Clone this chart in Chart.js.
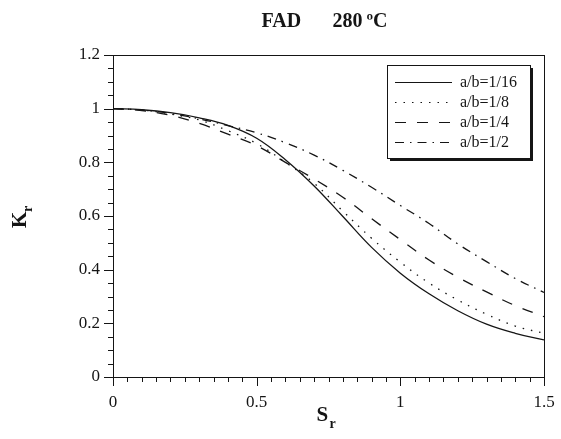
<!DOCTYPE html>
<html>
<head>
<meta charset="utf-8">
<script src="https://cdn.jsdelivr.net/npm/chart.js@4"></script>
<style>
  html, body { margin: 0; padding: 0; background: #fff; }
  canvas { display: block; }
</style>
</head>
<body>
<canvas id="fad-chart" width="561" height="439"></canvas>
<script>
// Data
const sr = [0, 0.1, 0.2, 0.3, 0.4, 0.5, 0.6, 0.7, 0.8, 0.9, 1.0, 1.1, 1.2, 1.3, 1.4, 1.5];
const kr16 = [1.0, 0.996, 0.985, 0.966, 0.938, 0.89, 0.81, 0.712, 0.598, 0.483, 0.387, 0.31, 0.247, 0.197, 0.163, 0.138];
const kr8 = [1.0, 0.995, 0.98, 0.958, 0.918, 0.87, 0.80, 0.722, 0.618, 0.517, 0.428, 0.35, 0.287, 0.234, 0.19, 0.163];
const kr4 = [1.0, 0.993, 0.975, 0.945, 0.905, 0.862, 0.80, 0.738, 0.67, 0.59, 0.512, 0.436, 0.372, 0.317, 0.266, 0.225];
const kr2 = [1.0, 0.995, 0.982, 0.962, 0.937, 0.91, 0.873, 0.827, 0.77, 0.707, 0.639, 0.572, 0.496, 0.43, 0.367, 0.315];

const seriesLabels = ['a/b=1/16', 'a/b=1/8', 'a/b=1/4', 'a/b=1/2'];
const xTicks = [0, 0.5, 1, 1.5];
const yTicks = [0, 0.2, 0.4, 0.6, 0.8, 1, 1.2];

const INK = '#151515';
const SERIF = '"Liberation Serif", "Times New Roman", serif';
const dashes = [[], [1.5, 7], [11, 11], [9, 6, 1.5, 6]];

function toPoints(ys) {
    return sr.map((x, i) => ({ x: x, y: ys[i] }));
}

// Frame, tick marks, titles and legend box
const decorations = {
    id: 'decorations',
    afterDraw(chart) {
        const ctx = chart.ctx;
        const area = chart.chartArea;
        const xs = chart.scales.x;
        const ys = chart.scales.y;
        ctx.save();
        ctx.strokeStyle = INK;
        ctx.fillStyle = INK;

        // frame
        ctx.lineWidth = 1;
        ctx.setLineDash([]);
        ctx.strokeRect(Math.round(area.left) + 0.5, Math.round(area.top) + 0.5,
            Math.round(area.right - area.left), Math.round(area.bottom - area.top));

        // x ticks (outward), minor every 0.05
        ctx.beginPath();
        for (let i = 0; i <= 30; i++) {
            const v = i * 0.05;
            const px = Math.round(xs.getPixelForValue(v)) + 0.5;
            const len = (i % 10 === 0) ? 9 : 5;
            ctx.moveTo(px, area.bottom);
            ctx.lineTo(px, area.bottom + len);
        }
        // y ticks (outward), minor every 0.05
        for (let i = 0; i <= 24; i++) {
            const v = i * 0.05;
            const py = Math.round(ys.getPixelForValue(v)) + 0.5;
            const len = (i % 4 === 0) ? 9 : 5;
            ctx.moveTo(area.left, py);
            ctx.lineTo(area.left - len, py);
        }
        ctx.stroke();

        // title
        const cx = (area.left + area.right) / 2;
        ctx.font = 'bold 20px ' + SERIF;
        ctx.textBaseline = 'alphabetic';
        ctx.textAlign = 'left';
        ctx.fillText('FAD', cx - 67, 27);
        ctx.fillText('280', cx + 4, 27);
        ctx.fillText('ºC', cx + 38, 27);

        // x axis title S_r
        ctx.font = 'bold 21px ' + SERIF;
        ctx.fillText('S', cx - 12, 421);
        ctx.font = 'bold 14px ' + SERIF;
        ctx.fillText('r', cx + 1, 428);

        // y axis title K_r (rotated)
        ctx.save();
        ctx.translate(26, 228);
        ctx.rotate(-Math.PI / 2);
        ctx.font = 'bold 21px ' + SERIF;
        ctx.fillText('K', 0, 0);
        ctx.font = 'bold 14px ' + SERIF;
        ctx.fillText('r', 16, 6);
        ctx.restore();

        // legend box with shadow
        const bx = area.right - 157, by = area.top + 10, bw = 143, bh = 93;
        ctx.fillRect(bx + 3, by + 3, bw, bh);
        ctx.fillStyle = '#fff';
        ctx.fillRect(bx, by, bw, bh);
        ctx.fillStyle = INK;
        ctx.lineWidth = 1;
        ctx.strokeRect(bx + 0.5, by + 0.5, bw, bh);

        ctx.font = '16px ' + SERIF;
        ctx.textBaseline = 'middle';
        seriesLabels.forEach((lab, i) => {
            const ly = by + 17.5 + i * 20;
            ctx.beginPath();
            ctx.lineWidth = 1.2;
            ctx.setLineDash(dashes[i]);
            ctx.moveTo(bx + 8, ly);
            ctx.lineTo(bx + 65, ly);
            ctx.stroke();
            ctx.setLineDash([]);
            ctx.fillText(lab, bx + 73, ly);
        });
        ctx.restore();
    }
};

const datasets = [kr16, kr8, kr4, kr2].map((ys, i) => ({
    label: seriesLabels[i],
    data: toPoints(ys),
    borderColor: INK,
    borderWidth: 1.3,
    borderDash: dashes[i],
    pointRadius: 0,
    fill: false,
    tension: 0.4
}));

const tickText = v => String(+Number(v).toFixed(2));

const ctx = document.getElementById('fad-chart').getContext('2d');
new Chart(ctx, {
    type: 'line',
    data: { datasets: datasets },
    options: {
        responsive: false,
        animation: false,
        layout: { padding: { top: 55, right: 17, left: 0, bottom: 0 } },
        plugins: {
            legend: { display: false },
            tooltip: { enabled: false }
        },
        scales: {
            x: {
                type: 'linear',
                min: 0,
                max: 1.5,
                afterBuildTicks: s => { s.ticks = xTicks.map(v => ({ value: v })); },
                afterFit: s => { s.height = 62; s.paddingLeft = 0; s.paddingRight = 0; },
                grid: { display: false, drawTicks: false },
                border: { display: false },
                ticks: { padding: 15, color: INK, font: { family: SERIF, size: 17 }, maxRotation: 0, callback: tickText }
            },
            y: {
                type: 'linear',
                min: 0,
                max: 1.2,
                afterBuildTicks: s => { s.ticks = yTicks.map(v => ({ value: v })); },
                afterFit: s => { s.width = 113; s.paddingTop = 0; s.paddingBottom = 0; },
                grid: { display: false, drawTicks: false },
                border: { display: false },
                ticks: { padding: 13, color: INK, font: { family: SERIF, size: 17 }, callback: tickText }
            }
        }
    },
    plugins: [decorations]
});
</script>
</body>
</html>
